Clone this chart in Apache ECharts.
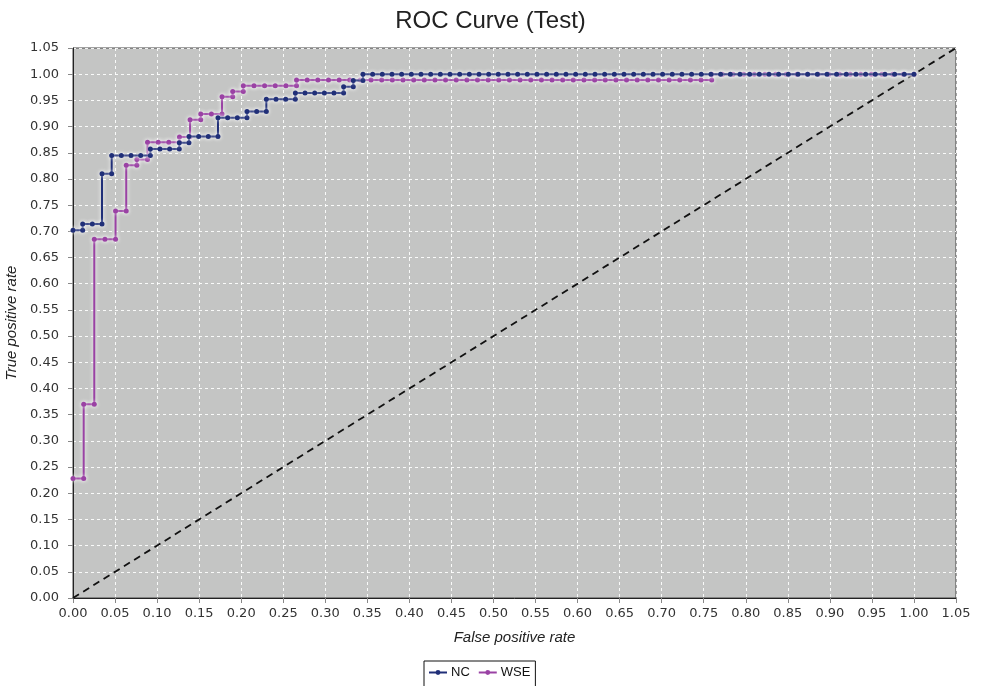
<!DOCTYPE html>
<html>
<head>
<meta charset="utf-8">
<script src="https://cdn.jsdelivr.net/npm/echarts@6/dist/echarts.min.js"></script>
<style>
html,body{margin:0;padding:0;background:#fff;}
#chart{width:981px;height:686px;}
</style>
</head>
<body>
<div id="chart"></div>
<script>
// Tick labels
const tickValues = ['0.00','0.05','0.10','0.15','0.20','0.25','0.30','0.35','0.40','0.45','0.50','0.55','0.60','0.65','0.70','0.75','0.80','0.85','0.90','0.95','1.00','1.05'];
const seriesNames = ['NC', 'WSE'];

// NC curve: false positive rate / true positive rate
const ncFpr = [0,0.0115,0.0115,0.0230,0.0345,0.0345,0.0460,0.0460,0.0575,0.0690,0.0805,0.0920,0.0920,0.1034,0.1149,0.1264,0.1264,0.1379,0.1379,0.1494,0.1609,0.1724,0.1724,0.1839,0.1954,0.2069,0.2069,0.2184,0.2299,0.2299,0.2414,0.2529,0.2644,0.2644,0.2759,0.2874,0.2989,0.3103,0.3218,0.3218,0.3333,0.3333,0.3448,0.3448,0.3563,0.3678,0.3793,0.3908,0.4023,0.4138,0.4253,0.4368,0.4483,0.4598,0.4713,0.4828,0.4943,0.5057,0.5172,0.5287,0.5402,0.5517,0.5632,0.5747,0.5862,0.5977,0.6092,0.6207,0.6322,0.6437,0.6552,0.6667,0.6782,0.6897,0.7011,0.7126,0.7241,0.7356,0.7471,0.7586,0.7701,0.7816,0.7931,0.8046,0.8161,0.8276,0.8391,0.8506,0.8621,0.8736,0.8851,0.8966,0.9080,0.9195,0.9310,0.9425,0.9540,0.9655,0.9770,0.9885,1.0];
const ncTpr = [0.702,0.702,0.714,0.714,0.714,0.810,0.810,0.845,0.845,0.845,0.845,0.845,0.857,0.857,0.857,0.857,0.869,0.869,0.881,0.881,0.881,0.881,0.917,0.917,0.917,0.917,0.929,0.929,0.929,0.952,0.952,0.952,0.952,0.964,0.964,0.964,0.964,0.964,0.964,0.976,0.976,0.988,0.988,1,1,1,1,1,1,1,1,1,1,1,1,1,1,1,1,1,1,1,1,1,1,1,1,1,1,1,1,1,1,1,1,1,1,1,1,1,1,1,1,1,1,1,1,1,1,1,1,1,1,1,1,1,1,1,1,1,1];

// WSE curve
const wseFpr = [0,0.0127,0.0127,0.0253,0.0253,0.0380,0.0506,0.0506,0.0633,0.0633,0.0759,0.0759,0.0886,0.0886,0.1013,0.1139,0.1266,0.1266,0.1392,0.1392,0.1519,0.1519,0.1646,0.1772,0.1772,0.1899,0.1899,0.2025,0.2025,0.2152,0.2278,0.2405,0.2532,0.2658,0.2658,0.2785,0.2911,0.3038,0.3165,0.3291,0.3418,0.3544,0.3671,0.3797,0.3924,0.4051,0.4177,0.4304,0.4430,0.4557,0.4684,0.4810,0.4937,0.5063,0.5190,0.5316,0.5443,0.5570,0.5696,0.5823,0.5949,0.6076,0.6203,0.6329,0.6456,0.6582,0.6709,0.6835,0.6962,0.7089,0.7215,0.7342,0.7468,0.7595,0.7595,0.7722,0.7848,0.7975,0.8101,0.8228,0.8354,0.8481,0.8608,0.8734,0.8861,0.8987,0.9114,0.9241,0.9367,0.9494,0.9620,0.9747,0.9873,1.0];
const wseTpr = [0.228,0.228,0.370,0.370,0.685,0.685,0.685,0.739,0.739,0.826,0.826,0.837,0.837,0.870,0.870,0.870,0.870,0.880,0.880,0.913,0.913,0.924,0.924,0.924,0.957,0.957,0.967,0.967,0.978,0.978,0.978,0.978,0.978,0.978,0.989,0.989,0.989,0.989,0.989,0.989,0.989,0.989,0.989,0.989,0.989,0.989,0.989,0.989,0.989,0.989,0.989,0.989,0.989,0.989,0.989,0.989,0.989,0.989,0.989,0.989,0.989,0.989,0.989,0.989,0.989,0.989,0.989,0.989,0.989,0.989,0.989,0.989,0.989,0.989,1,1,1,1,1,1,1,1,1,1,1,1,1,1,1,1,1,1,1,1];

// Reference diagonal (random classifier)
const diagFpr = [0, 1.05];
const diagTpr = [0, 1.05];

const zip = (a, b) => a.map((v, i) => [v, b[i]]);

const chart = echarts.init(document.getElementById('chart'), null, {renderer: 'canvas'});
const tickFont = 'DejaVu Sans';
const halo = {shadowColor: 'rgba(255,255,255,0.95)', shadowBlur: 4};

function axisCommon() {
  return {
    type: 'value', min: 0, max: 1.05, interval: 0.05,
    axisLine: {show: true, lineStyle: {color: '#222', width: 1}},
    axisTick: {show: true, length: 5, lineStyle: {color: '#888'}},
    axisLabel: {
      fontFamily: tickFont, fontSize: 13, color: '#333',
      formatter: v => tickValues[Math.round(v / 0.05)]
    },
    splitLine: {show: true, lineStyle: {color: '#ffffff', type: [3, 3], width: 1, opacity: 0.9}},
    nameLocation: 'middle',
    nameTextStyle: {fontFamily: 'Liberation Sans', fontStyle: 'italic', fontSize: 15, color: '#222'}
  };
}

const xAxis = Object.assign(axisCommon(), {name: 'False positive rate', nameGap: 32});
xAxis.axisLabel.margin = 9;
const yAxis = Object.assign(axisCommon(), {name: 'True positive rate', nameGap: 52});
yAxis.axisLabel.margin = 14;

chart.setOption({
  animation: false,
  title: {
    text: 'ROC Curve (Test)', left: 'center', top: 4,
    textStyle: {fontFamily: 'Liberation Sans', fontSize: 24, fontWeight: 'normal', color: '#222'}
  },
  grid: {
    left: 73, right: 25, top: 48, bottom: 88,
    containLabel: false, outerBoundsMode: 'none',
    show: true, backgroundColor: '#c4c5c4', borderColor: '#444', borderWidth: 1
  },
  legend: {
    data: seriesNames, left: 424, top: 661,
    itemWidth: 18, itemHeight: 6, itemGap: 8,
    padding: [5, 5, 10, 4],
    borderColor: '#111', borderWidth: 1, backgroundColor: '#fff', borderRadius: 0,
    textStyle: {fontFamily: 'Liberation Sans', fontSize: 13, color: '#111', padding: [0, 0, 0, -1]}
  },
  xAxis: xAxis,
  yAxis: yAxis,
  series: [
    {
      name: 'diag', type: 'line', data: zip(diagFpr, diagTpr), showSymbol: false, silent: true,
      lineStyle: {color: '#111', width: 1.8, type: [7, 5]}, z: 1
    },
    {
      name: 'WSE', type: 'line', data: zip(wseFpr, wseTpr),
      symbol: 'circle', symbolSize: 5, showAllSymbol: true,
      lineStyle: Object.assign({color: '#9a42a4', width: 2}, halo),
      itemStyle: Object.assign({color: '#9a42a4'}, halo), z: 2
    },
    {
      name: 'NC', type: 'line', data: zip(ncFpr, ncTpr),
      symbol: 'circle', symbolSize: 5, showAllSymbol: true,
      lineStyle: Object.assign({color: '#202f78', width: 2}, halo),
      itemStyle: Object.assign({color: '#202f78'}, halo), z: 3
    }
  ]
});
</script>
</body>
</html>
